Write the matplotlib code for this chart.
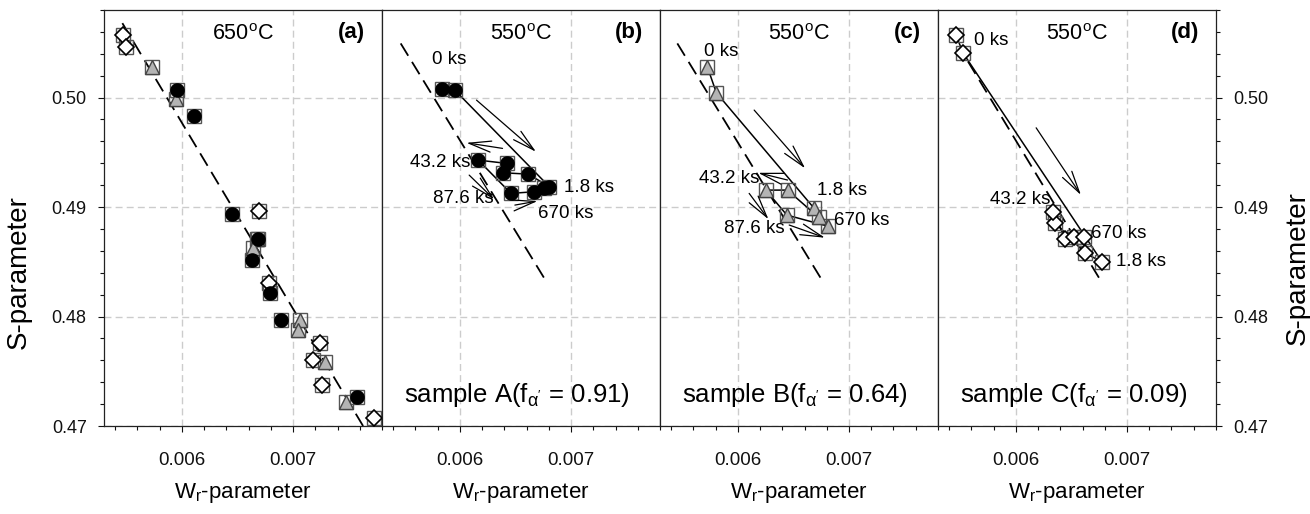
#!/usr/bin/env python3

import matplotlib

matplotlib.use("Agg")

import matplotlib.pyplot as plt
from matplotlib.ticker import FormatStrFormatter, MultipleLocator


plt.rcParams["font.family"] = ["Liberation Sans", "DejaVu Sans"]
plt.rcParams["mathtext.fontset"] = "custom"
plt.rcParams["mathtext.rm"] = "Liberation Sans"
plt.rcParams["mathtext.it"] = "Liberation Sans:italic"
plt.rcParams["mathtext.bf"] = "Liberation Sans:bold"

# panel (a): 650 C, all three samples
A650_W = [0.005955, 0.006108, 0.006450, 0.006685, 0.006630, 0.006795, 0.006892, 0.007576]
A650_S = [0.50070, 0.49834, 0.48933, 0.48705, 0.48516, 0.48212, 0.47968, 0.47268]
B650_W = [0.005735, 0.005943, 0.006675, 0.006636, 0.007066, 0.007041, 0.007285, 0.007480]
B650_S = [0.50280, 0.49990, 0.48710, 0.48623, 0.47968, 0.47877, 0.47587, 0.47222]
C650_W = [0.005474, 0.005495, 0.006693, 0.006786, 0.007240, 0.007180, 0.007260, 0.007732]
C650_S = [0.50570, 0.50460, 0.48960, 0.48303, 0.47755, 0.47603, 0.47374, 0.47070]

# panels (b)-(d): 550 C, points in measurement order
A550_W = [0.005843, 0.005955, 0.006805, 0.006615, 0.006390, 0.006420, 0.006165, 0.006460, 0.006670, 0.006760]
A550_S = [0.50075, 0.50068, 0.49186, 0.49301, 0.49313, 0.49399, 0.49429, 0.49125, 0.49140, 0.49171]
B550_W = [0.005726, 0.005807, 0.006687, 0.006726, 0.006447, 0.006252, 0.006441, 0.006807]
B550_S = [0.50281, 0.50044, 0.48988, 0.48906, 0.49155, 0.49155, 0.48927, 0.48826]
C550_W = [0.005462, 0.005528, 0.006775, 0.006625, 0.006354, 0.006339, 0.006444, 0.006519, 0.006609]
C550_S = [0.50570, 0.50404, 0.48500, 0.48577, 0.48857, 0.48957, 0.48705, 0.48723, 0.48729]

# dashed reference line per panel (end points)
REF_LINES = {
    "a": ([0.005465, 0.007630], [0.50680, 0.47000]),
    "b": ([0.005468, 0.006784], [0.50495, 0.48309]),
    "c": ([0.005456, 0.006771], [0.50495, 0.48309]),
    "d": ([0.005570, 0.006775], [0.50330, 0.48309]),
}

PANEL_TITLES = ["650$^{\\mathregular{o}}$C", "550$^{\\mathregular{o}}$C",
                "550$^{\\mathregular{o}}$C", "550$^{\\mathregular{o}}$C"]
PANEL_LETTERS = ["(a)", "(b)", "(c)", "(d)"]
SAMPLE_NOTES = [None,
                "sample A(f$_{\\mathrm{\\alpha'}}$ = 0.91)",
                "sample B(f$_{\\mathrm{\\alpha'}}$ = 0.64)",
                "sample C(f$_{\\mathrm{\\alpha'}}$ = 0.09)"]

# time labels (text, W, S)
TIME_LABELS = {
    "b": [("0 ks", 0.005904, 0.50345), ("43.2 ks", 0.005821, 0.49408),
          ("1.8 ks", 0.007165, 0.49176), ("87.6 ks", 0.006030, 0.49080),
          ("670 ks", 0.006955, 0.48942)],
    "c": [("0 ks", 0.005847, 0.50418), ("43.2 ks", 0.005922, 0.49262),
          ("1.8 ks", 0.006937, 0.49155), ("87.6 ks", 0.006147, 0.48805),
          ("670 ks", 0.007113, 0.48881)],
    "d": [("0 ks", 0.005777, 0.50525), ("43.2 ks", 0.006039, 0.49070),
          ("670 ks", 0.006925, 0.48760), ("1.8 ks", 0.007127, 0.48507)],
}

# arrows ((W0, S0), (W1, S1))
ARROWS = {
    "b": [((0.006150, 0.49977), (0.006685, 0.49505)),
          ((0.006384, 0.49536), (0.006059, 0.49587)),
          ((0.006084, 0.49292), (0.006309, 0.49070)),
          ((0.006495, 0.49018), (0.006699, 0.49055))],
    "c": [((0.006147, 0.49886), (0.006606, 0.49353)),
          ((0.006447, 0.49247), (0.006183, 0.49313)),
          ((0.006102, 0.49125), (0.006276, 0.48888)),
          ((0.006462, 0.48836), (0.006784, 0.48720))],
    "d": [((0.006183, 0.49724), (0.006586, 0.49110))],
}

MARKERS = {
    "A": dict(marker="o", ms=9.5, mfc="black", mec="black", mew=1.0),
    "B": dict(marker="^", ms=9.5, mfc="#b4b4b4", mec="#444444", mew=1.0),
    "C": dict(marker="D", ms=8.0, mfc="white", mec="black", mew=1.2),
}

FIG_W, FIG_H = 13.1, 5.14
LEFT, BOTTOM, PANEL_W, PANEL_H = 0.0794, 0.1712, 0.2122, 0.8093
XLIM = (0.0053, 0.0078)
YLIM = (0.47, 0.508)


def draw_series(ax, w, s, kind, connect=False):
    if connect:
        ax.plot(w, s, color="black", linewidth=1.1, zorder=2)
    ax.plot(w, s, linestyle="none", marker="s", ms=10.5, mfc="none",
            mec="#555555", mew=1.0, zorder=3)
    ax.plot(w, s, linestyle="none", zorder=4, **MARKERS[kind])


def style_axes(ax, index):
    ax.set_xlim(*XLIM)
    ax.set_ylim(*YLIM)
    ax.xaxis.set_major_locator(MultipleLocator(0.001))
    ax.xaxis.set_minor_locator(MultipleLocator(0.0002))
    ax.yaxis.set_major_locator(MultipleLocator(0.01))
    ax.yaxis.set_minor_locator(MultipleLocator(0.002))
    ax.xaxis.set_major_formatter(FormatStrFormatter("%.3f"))
    ax.yaxis.set_major_formatter(FormatStrFormatter("%.2f"))
    ax.grid(True, which="major", color="#cccccc", linestyle=(0, (5, 3)),
            linewidth=1.0, zorder=0)
    ax.set_axisbelow(True)
    ax.tick_params(which="both", direction="out", width=0.8, colors="#111111")
    ax.tick_params(which="major", length=4.5)
    ax.tick_params(which="minor", length=3.0)
    ax.tick_params(axis="x", pad=14, labelsize=13.5)
    ax.tick_params(axis="y", pad=8, labelsize=13)
    for spine in ax.spines.values():
        spine.set_linewidth(0.9)
        spine.set_color("#222222")

    if index == 0:
        ax.tick_params(axis="y", which="both", left=True, right=False,
                       labelleft=True, labelright=False)
    elif index == 3:
        ax.tick_params(axis="y", which="both", left=False, right=True,
                       labelleft=False, labelright=True)
    else:
        ax.tick_params(axis="y", which="both", left=False, right=False,
                       labelleft=False, labelright=False)

    ax.set_xlabel("W$_{\\mathregular{r}}$-parameter", fontsize=16, labelpad=9)
    ax.text(0.5, 0.94, PANEL_TITLES[index], transform=ax.transAxes,
            ha="center", va="center", fontsize=15.5)
    ax.text(0.89, 0.945, PANEL_LETTERS[index], transform=ax.transAxes,
            ha="center", va="center", fontsize=16, fontweight="bold")
    if SAMPLE_NOTES[index]:
        ax.text(0.487, 0.075, SAMPLE_NOTES[index], transform=ax.transAxes,
                ha="center", va="center", fontsize=18.5)


def draw_reference(ax, key):
    xs, ys = REF_LINES[key]
    line, = ax.plot(xs, ys, color="black", linewidth=1.3, zorder=2)
    line.set_dashes((8, 4))


def draw_annotations(ax, key):
    for text, w, s in TIME_LABELS.get(key, []):
        ax.text(w, s, text, ha="center", va="center", fontsize=13.5, zorder=6)
    for start, end in ARROWS.get(key, []):
        ax.annotate("", xy=end, xytext=start,
                    arrowprops=dict(arrowstyle="->,head_length=1.0,head_width=0.25",
                                    color="black", linewidth=0.9,
                                    shrinkA=0, shrinkB=0, mutation_scale=16),
                    zorder=5)


def main() -> None:
    fig = plt.figure(figsize=(FIG_W, FIG_H), dpi=100)
    axes = []
    for i in range(4):
        ax = fig.add_axes([LEFT + i * PANEL_W, BOTTOM, PANEL_W, PANEL_H])
        style_axes(ax, i)
        axes.append(ax)

    ax_a, ax_b, ax_c, ax_d = axes

    draw_reference(ax_a, "a")
    draw_series(ax_a, C650_W, C650_S, "C")
    draw_series(ax_a, B650_W, B650_S, "B")
    draw_series(ax_a, A650_W, A650_S, "A")

    draw_reference(ax_b, "b")
    draw_series(ax_b, A550_W, A550_S, "A", connect=True)
    draw_annotations(ax_b, "b")

    draw_reference(ax_c, "c")
    draw_series(ax_c, B550_W, B550_S, "B", connect=True)
    draw_annotations(ax_c, "c")

    draw_reference(ax_d, "d")
    draw_series(ax_d, C550_W, C550_S, "C", connect=True)
    draw_annotations(ax_d, "d")

    fig.text(19 / 1310, 1 - 272 / 514, "S-parameter", rotation=90,
             ha="center", va="center", fontsize=20)
    fig.text(1298 / 1310, 1 - 268 / 514, "S-parameter", rotation=90,
             ha="center", va="center", fontsize=20)

    fig.savefig("out.png", dpi=100)
    plt.close(fig)


if __name__ == "__main__":
    main()
